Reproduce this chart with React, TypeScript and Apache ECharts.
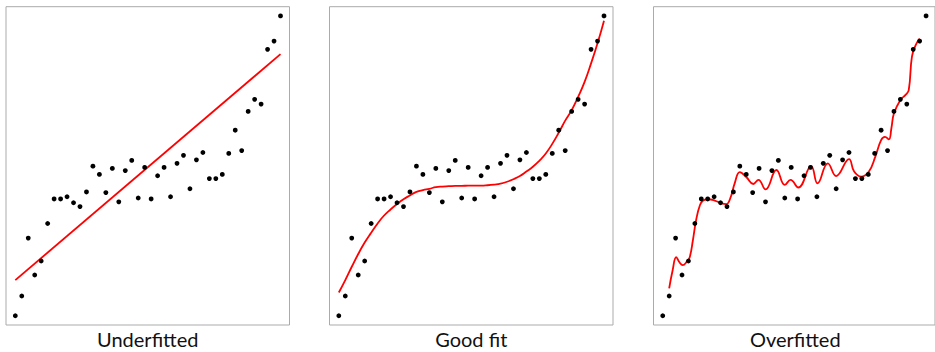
import React, { useEffect, useRef } from "react";
import * as echarts from "echarts";

// Observed sample: x index 0..41, y on a 0–100 scale
const sampleY = [
  2.9, 9.1, 27.3, 15.7, 20.1, 31.9, 39.6, 39.6, 40.3, 38.4, 37.2, 41.8, 49.9, 47.3,
  41.6, 49.2, 38.7, 48.5, 51.7, 39.9, 49.5, 39.6, 46.9, 49.5, 40.3, 50.8, 53.3, 42.8,
  51.9, 54.2, 46.0, 46.0, 47.3, 53.9, 61.2, 54.8, 67.1, 70.9, 69.4, 86.6, 89.2, 97.1,
];

// Straight-line model (end points)
const underfitLine: [number, number][] = [
  [0, 14.1],
  [41, 85.1],
];

// Cubic-like model, one value per x index
const goodFitY = [
  10.2, 14.1, 18.3, 22.3, 25.9, 29.0, 31.9, 34.4, 36.3, 38.0, 39.5, 40.7, 41.8, 42.4,
  42.8, 43.3, 43.5, 43.6, 43.7, 43.7, 43.8, 43.8, 43.8, 43.9, 44.1, 44.4, 45.0, 45.8,
  46.8, 48.2, 49.7, 51.6, 53.9, 56.9, 60.4, 64.2, 67.5, 71.7, 76.4, 82.2, 88.5, 95.6,
];

// High-degree model, sampled at its turning points
const overfitCurve: [number, number][] = [
  [1.0, 11.5], [1.55, 17.3], [2.1, 21.3], [2.6, 19.7], [3.1, 18.8], [3.75, 19.9],
  [4.2, 21.3], [4.7, 26.7], [5.2, 33.0], [5.8, 37.7], [6.3, 39.1], [7.1, 39.5],
  [8.1, 39.1], [9.2, 38.2], [9.9, 38.0], [10.6, 40.3], [11.2, 44.5], [12.0, 48.0],
  [13.0, 46.5], [14.1, 44.3], [14.9, 45.6], [16.0, 42.6], [17.7, 48.7], [19.0, 44.0],
  [19.9, 45.6], [21.1, 43.2], [23.1, 49.9], [24.1, 44.5], [25.7, 50.8], [27.0, 46.8],
  [29.0, 52.1], [29.8, 48.2], [30.9, 46.6], [32.1, 48.2], [33.1, 52.9], [34.0, 58.1],
  [34.6, 59.1], [35.2, 58.3], [35.6, 61.8], [36.0, 66.5], [37.0, 70.7], [37.8, 72.3],
  [38.3, 73.8], [38.8, 84.3], [39.4, 88.0], [40.0, 90.0],
];

const panelTitles = ["Underfitted", "Good fit", "Overfitted"];

const PANEL_LEFT = [6, 329.5, 653.5];
const PANEL_W = 283.5;
const PANEL_TOP = 6.7;
const PANEL_H = 318.3;

export default function App() {
  const ref = useRef<HTMLDivElement>(null);

  useEffect(() => {
    if (!ref.current) return;
    const chart = echarts.init(ref.current, null, { renderer: "svg" });

    const points = sampleY.map((y, i) => [i, y]);
    const goodFit = goodFitY.map((y, i) => [i, y]);
    const fits = [
      { data: underfitLine, smooth: false },
      { data: goodFit, smooth: true },
      { data: overfitCurve, smooth: 0.45 },
    ];

    const grid = PANEL_LEFT.map((left) => ({
      left,
      top: PANEL_TOP,
      width: PANEL_W,
      height: PANEL_H,
      show: true,
      borderColor: "#ababab",
      borderWidth: 1,
      backgroundColor: "transparent",
      containLabel: false,
    }));

    const xAxis = PANEL_LEFT.map((_, k) => ({
      type: "value",
      gridIndex: k,
      min: -1.44,
      max: 42.39,
      show: false,
    }));
    const yAxis = PANEL_LEFT.map((_, k) => ({
      type: "value",
      gridIndex: k,
      min: 0,
      max: 100,
      show: false,
    }));

    const series: any[] = [];
    fits.forEach((f, k) => {
      series.push({
        type: "line",
        xAxisIndex: k,
        yAxisIndex: k,
        data: f.data,
        smooth: f.smooth,
        showSymbol: false,
        symbol: "none",
        lineStyle: { color: "#ff0000", width: 1.8 },
        z: 2,
      });
      series.push({
        type: "scatter",
        xAxisIndex: k,
        yAxisIndex: k,
        data: points,
        symbol: "circle",
        symbolSize: 4.8,
        itemStyle: { color: "#000000", opacity: 1 },
        z: 3,
      });
    });

    const title = panelTitles.map((text, k) => ({
      text,
      left: PANEL_LEFT[k] + PANEL_W / 2,
      top: 328.5,
      textAlign: "center",
      padding: 0,
      textStyle: {
        fontFamily: "Lato",
        fontSize: 20,
        fontWeight: "normal",
        color: "#111111",
      },
    }));

    chart.setOption({
      animation: false,
      backgroundColor: "#ffffff",
      title,
      grid,
      xAxis,
      yAxis,
      series,
    });

    return () => chart.dispose();
  }, []);

  return (
    <div
      ref={ref}
      style={{ position: "fixed", left: 0, top: 0, width: 935, height: 352 }}
    />
  );
}
